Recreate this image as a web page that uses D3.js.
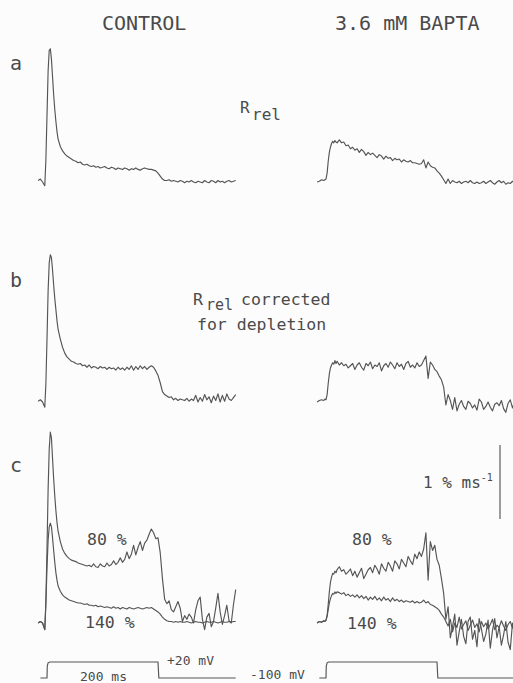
<!DOCTYPE html>
<html>
<head>
<meta charset="utf-8">
<script src="https://cdn.jsdelivr.net/npm/d3@7"></script>
<style>
  html, body { margin: 0; padding: 0; background: #fcfcfc; }
  #graph svg { display: block; }
  text { font-family: "DejaVu Sans Mono", "Liberation Mono", monospace; fill: #4a4a4a; }
</style>
</head>
<body>
<div id="graph"></div>
<script>
// sample times (ms from start of the depolarizing pulse)
const timeMs = [-16, -12, -8, -4, -2, 0, 2, 4, 6, 8, 10, 12, 14, 16, 18, 20,
  24, 28, 32, 36, 40, 44, 48, 52, 56, 60, 64, 68, 72, 76, 80, 84, 88, 92, 96, 100,
  104, 108, 112, 116, 120, 124, 128, 132, 136, 140, 144, 148, 152, 156, 160, 164, 168, 172, 176, 180,
  184, 188, 192, 196, 200, 204, 208, 212, 216, 220, 224, 228, 232, 236, 240, 244, 248, 252, 256, 260,
  264, 268, 272, 276, 280, 284, 288, 292, 296, 300, 304, 308, 312, 316, 320, 324, 328, 332, 336, 340];

// Rrel (% ms-1), panel a
const controlA = [0.02, 0.04, 0.00, -0.05, 0.30, 0.90, 1.50, 1.78, 1.80, 1.66, 1.42, 1.18, 0.98, 0.82, 0.68, 0.58,
  0.48, 0.42, 0.38, 0.35, 0.33, 0.31, 0.29, 0.28, 0.26, 0.27, 0.24, 0.23, 0.24, 0.22, 0.21, 0.22, 0.20, 0.21, 0.19, 0.20,
  0.21, 0.19, 0.18, 0.20, 0.19, 0.17, 0.19, 0.18, 0.17, 0.19, 0.18, 0.16, 0.18, 0.17, 0.19, 0.17, 0.16, 0.18, 0.19, 0.18,
  0.17, 0.17, 0.16, 0.15, 0.12, 0.08, 0.04, 0.02, 0.02, 0.03, 0.01, 0.02, 0.01, 0.00, 0.02, 0.01, -0.01, 0.01, 0.00, 0.02,
  0.00, -0.01, 0.01, 0.00, -0.01, 0.02, 0.00, -0.01, 0.02, 0.01, -0.01, 0.02, 0.00, 0.01, -0.01, 0.01, 0.02, 0.00, 0.01, 0.02];
const baptaA = [0.00, 0.01, 0.03, 0.02, 0.03, 0.04, 0.12, 0.28, 0.40, 0.47, 0.52, 0.55, 0.53, 0.56, 0.54, 0.53,
  0.57, 0.53, 0.54, 0.49, 0.50, 0.45, 0.47, 0.43, 0.45, 0.40, 0.44, 0.41, 0.36, 0.40, 0.37, 0.39, 0.36, 0.33, 0.37, 0.35,
  0.31, 0.35, 0.32, 0.33, 0.29, 0.32, 0.30, 0.31, 0.27, 0.30, 0.28, 0.27, 0.29, 0.26, 0.26, 0.25, 0.24, 0.25, 0.30, 0.19,
  0.27, 0.22, 0.20, 0.19, 0.15, 0.12, 0.08, 0.03, -0.02, 0.04, -0.02, 0.02, 0.00, -0.01, 0.01, -0.02, 0.00, 0.01, -0.01, 0.02,
  -0.01, -0.02, 0.00, -0.02, -0.01, 0.01, -0.02, 0.00, 0.02, -0.01, -0.03, 0.00, 0.02, -0.01, 0.01, -0.03, -0.01, -0.02, 0.01, -0.01];

// Rrel corrected for depletion, panel b
const controlB = [0.01, 0.03, 0.00, -0.07, 0.25, 0.85, 1.50, 1.88, 1.99, 1.95, 1.78, 1.58, 1.40, 1.25, 1.10, 0.98,
  0.85, 0.74, 0.66, 0.61, 0.58, 0.55, 0.54, 0.52, 0.51, 0.52, 0.49, 0.50, 0.47, 0.50, 0.46, 0.48, 0.47, 0.45, 0.48, 0.46,
  0.47, 0.44, 0.47, 0.45, 0.46, 0.43, 0.47, 0.44, 0.46, 0.43, 0.47, 0.44, 0.49, 0.43, 0.48, 0.44, 0.49, 0.45, 0.48, 0.44,
  0.47, 0.49, 0.47, 0.42, 0.36, 0.26, 0.14, 0.10, 0.08, 0.06, 0.07, 0.03, 0.05, 0.02, 0.04, 0.03, 0.02, 0.05, 0.01, 0.04,
  0.02, 0.09, 0.00, 0.06, 0.01, 0.10, 0.03, 0.07, -0.01, 0.08, 0.02, 0.11, 0.00, 0.09, 0.01, 0.11, 0.04, 0.02, 0.06, 0.10];
const baptaB = [0.00, 0.02, 0.03, 0.02, 0.04, 0.03, 0.10, 0.25, 0.38, 0.46, 0.50, 0.53, 0.51, 0.56, 0.52, 0.55,
  0.50, 0.53, 0.49, 0.51, 0.46, 0.49, 0.52, 0.44, 0.50, 0.53, 0.47, 0.43, 0.52, 0.49, 0.54, 0.45, 0.50, 0.48, 0.53, 0.42,
  0.49, 0.52, 0.47, 0.54, 0.50, 0.45, 0.53, 0.48, 0.51, 0.44, 0.52, 0.55, 0.47, 0.50, 0.46, 0.53, 0.48, 0.50, 0.56, 0.62,
  0.32, 0.54, 0.50, 0.44, 0.41, 0.35, 0.30, 0.20, -0.04, 0.10, 0.02, -0.10, 0.06, -0.12, -0.03, 0.02, -0.06, -0.10,
  0.01, -0.02, -0.08, -0.04, -0.11, 0.04, 0.00, -0.10, -0.06, 0.00, -0.07, -0.12, -0.03, -0.01, -0.05, 0.02, -0.09, -0.14, -0.02, 0.03, -0.08, 0.01];

// panel c: 80 % and 140 % of the depletion correction
const control80 = [0.00, 0.02, 0.00, -0.09, 0.30, 1.00, 1.80, 2.35, 2.58, 2.50, 2.22, 1.95, 1.72, 1.52, 1.36, 1.24,
  1.10, 1.00, 0.94, 0.90, 0.87, 0.85, 0.84, 0.83, 0.81, 0.80, 0.79, 0.78, 0.77, 0.78, 0.76, 0.80, 0.76, 0.75, 0.80, 0.77,
  0.76, 0.81, 0.77, 0.79, 0.84, 0.79, 0.82, 0.88, 0.82, 0.86, 0.96, 0.87, 0.93, 1.05, 0.92, 1.02, 1.10, 0.98, 1.08, 1.12,
  1.20, 1.27, 1.22, 1.14, 1.15, 0.95, 0.60, 0.32, 0.26, 0.30, 0.18, 0.15, 0.22, 0.29, 0.20, 0.02, 0.10, 0.05, 0.12, 0.08,
  0.00, 0.18, 0.30, 0.35, 0.05, -0.09, 0.08, 0.13, -0.05, 0.02, 0.20, 0.40, 0.15, -0.02, 0.10, 0.24, 0.03, 0.00, 0.25, 0.45];
const control140 = [0.00, 0.02, 0.00, -0.09, 0.25, 0.75, 1.12, 1.30, 1.35, 1.30, 1.15, 0.98, 0.82, 0.68, 0.58, 0.50,
  0.43, 0.38, 0.35, 0.33, 0.31, 0.30, 0.29, 0.28, 0.27, 0.27, 0.26, 0.25, 0.26, 0.24, 0.24, 0.23, 0.24, 0.22, 0.23, 0.22,
  0.21, 0.22, 0.21, 0.20, 0.22, 0.20, 0.21, 0.19, 0.21, 0.20, 0.19, 0.21, 0.20, 0.19, 0.20, 0.21, 0.20, 0.19, 0.20, 0.21,
  0.20, 0.21, 0.19, 0.17, 0.15, 0.12, 0.08, 0.05, 0.03, 0.02, 0.02, 0.01, 0.02, 0.01, 0.02, 0.01, 0.01, 0.02, 0.01, 0.00,
  0.01, 0.02, 0.01, 0.01, 0.00, 0.01, 0.02, 0.01, 0.01, 0.02, 0.01, 0.00, 0.01, 0.02, 0.01, 0.01, 0.02, 0.01, 0.02, 0.02];
const bapta80 = [0.00, 0.02, 0.01, 0.03, 0.02, 0.04, 0.10, 0.25, 0.42, 0.55, 0.62, 0.67, 0.66, 0.70, 0.68, 0.72,
  0.76, 0.70, 0.72, 0.66, 0.69, 0.73, 0.64, 0.70, 0.62, 0.68, 0.74, 0.60, 0.66, 0.72, 0.75, 0.68, 0.78, 0.73, 0.66, 0.80,
  0.74, 0.70, 0.82, 0.77, 0.70, 0.84, 0.80, 0.73, 0.86, 0.81, 0.76, 0.90, 0.84, 0.79, 0.93, 0.87, 0.96, 0.90, 1.00, 1.22,
  0.58, 1.10, 0.98, 1.05, 0.86, 0.78, 0.60, 0.40, 0.05, 0.22, -0.20, -0.05, 0.12, -0.30, -0.12, 0.05, -0.18, -0.28,
  0.02, 0.08, -0.22, -0.10, -0.32, 0.06, -0.08, -0.25, -0.15, 0.04, -0.34, -0.10, 0.06, -0.20, -0.05, -0.30, -0.16, 0.02, -0.26, -0.36, 0.00, -0.14];
const bapta140 = [0.00, 0.02, 0.01, 0.03, 0.02, 0.04, 0.09, 0.18, 0.27, 0.33, 0.37, 0.40, 0.39, 0.42, 0.40, 0.42,
  0.41, 0.39, 0.41, 0.37, 0.39, 0.36, 0.38, 0.35, 0.38, 0.34, 0.37, 0.33, 0.36, 0.31, 0.35, 0.32, 0.36, 0.31, 0.34, 0.30,
  0.35, 0.31, 0.33, 0.29, 0.34, 0.30, 0.32, 0.29, 0.31, 0.28, 0.30, 0.29, 0.28, 0.30, 0.27, 0.29, 0.27, 0.28, 0.31, 0.27,
  0.29, 0.25, 0.24, 0.22, 0.20, 0.17, 0.12, 0.08, 0.02, -0.04, 0.05, -0.12, 0.00, -0.06, 0.08, -0.08, -0.02, 0.03, -0.10, -0.03,
  0.04, -0.06, -0.01, -0.12, 0.02, -0.05, 0.00, -0.08, -0.02, 0.05, -0.09, -0.03, -0.06, 0.03, -0.04, -0.10, -0.02, 0.02, -0.07, 0.04];

// voltage protocol: -100 mV holding, 200 ms pulse to +20 mV
const pulseTime = [-12, 0, 0.5, 2, 5, 200, 201.5, 340];
const pulseMv = [-100, -100, -10, 14, 20, 20, -100, -100];

const columnTitles = ["CONTROL", "3.6 mM BAPTA"];
const panelLetters = ["a", "b", "c"];
const traceLabels = ["80 %", "140 %"];

const width = 513, height = 683;
const pxPerUnit = 74; // 1 % ms-1 scale bar
const baselines = [182, 402, 623];

//setup and return svg
function setupSVG() {
  return d3.select("#graph").append("svg")
    .attr("width", width)
    .attr("height", height);
}

const svg = setupSVG();

// one time scale per column; 200 ms pulse spans the same width in both
const xControl = d3.scaleLinear().domain([0, 200]).range([47, 158]);
const xBapta = d3.scaleLinear().domain([0, 200]).range([326, 437]);
const yPanel = baselines.map(b => d3.scaleLinear().domain([0, 1]).range([b, b - pxPerUnit]));
const yPulse = d3.scaleLinear().domain([-100, 20]).range([678, 662]);

//draw one trace
function addTrace(values, x, y) {
  const line = d3.line()
    .x((d, i) => x(timeMs[i]))
    .y(d => y(d));
  svg.append("path")
    .datum(values)
    .attr("d", line)
    .attr("fill", "none")
    .attr("stroke", "#555")
    .attr("stroke-width", 1.15)
    .attr("stroke-linejoin", "round");
}

addTrace(controlA, xControl, yPanel[0]);
addTrace(baptaA, xBapta, yPanel[0]);
addTrace(controlB, xControl, yPanel[1]);
addTrace(baptaB, xBapta, yPanel[1]);
addTrace(control80, xControl, yPanel[2]);
addTrace(control140, xControl, yPanel[2]);
addTrace(bapta80, xBapta, yPanel[2]);
addTrace(bapta140, xBapta, yPanel[2]);

// voltage pulses
[xControl, xBapta].forEach(x => {
  svg.append("path")
    .datum(pulseTime)
    .attr("d", d3.line().x(d => x(d)).y((d, i) => yPulse(pulseMv[i])))
    .attr("fill", "none")
    .attr("stroke", "#555")
    .attr("stroke-width", 1.15);
});

// calibration bar, 1 % ms-1
svg.append("line")
  .attr("x1", 500).attr("x2", 500)
  .attr("y1", yPanel[2](0) - 104)
  .attr("y2", yPanel[2](0) - 104 - (yPanel[2](0) - yPanel[2](1)))
  .attr("stroke", "#555")
  .attr("stroke-width", 1.15);

//text labels
function addText(x, y, str, size) {
  return svg.append("text")
    .attr("x", x).attr("y", y)
    .style("font-size", size + "px")
    .text(str);
}

addText(102, 30, columnTitles[0], 20);
addText(335, 30, columnTitles[1], 20);

[70, 287, 472].forEach((y, i) => addText(10, y, panelLetters[i], 20));

// R_rel
addText(240, 113, "R", 16);
addText(252, 120, "rel", 16);
addText(193, 305, "R", 16.5);
addText(206, 310, "rel", 15);
addText(241, 305, "corrected", 16.5);
addText(197, 330, "for depletion", 16.5);

addText(87, 545, traceLabels[0], 16.5);
addText(85, 628, traceLabels[1], 16.5);
addText(352, 545, traceLabels[0], 16.5);
addText(347, 629, traceLabels[1], 16.5);

const cal = addText(423, 488, "1 % ms", 16);
cal.append("tspan")
  .attr("dy", -7)
  .style("font-size", "10px")
  .text("-1");

addText(167, 665, "+20 mV", 13);
addText(80, 681, "200 ms", 13);
addText(250, 679, "-100 mV", 13);
</script>
</body>
</html>
